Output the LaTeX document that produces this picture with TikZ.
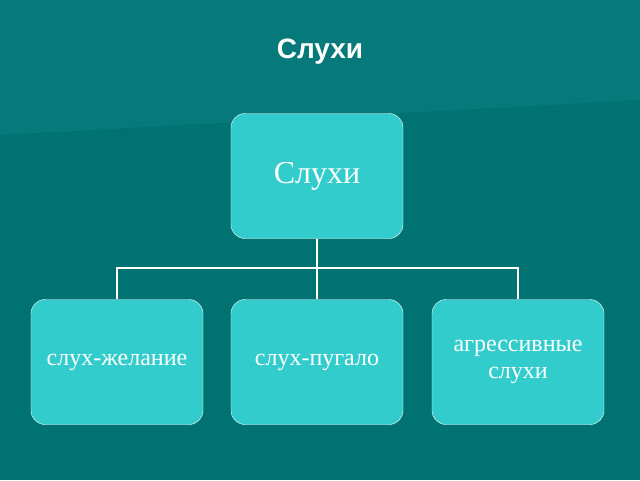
\documentclass[tikz,border=0pt]{standalone}
\usepackage{fontspec}
\setmainfont{Liberation Serif}
\newfontfamily\titlefont{Liberation Sans}
\usetikzlibrary{positioning}
\definecolor{bgteal}{HTML}{007272}
\definecolor{bandteal}{HTML}{067A7A}
\definecolor{boxteal}{HTML}{33CCCC}
\begin{document}
\begin{tikzpicture}[x=1pt,y=-1pt,every node/.style={shape=rectangle,draw=white,rounded corners=14pt,fill=boxteal,text=white,minimum width=172pt,minimum height=125pt,align=center,font=\fontsize{24}{27}\selectfont},]
	% background
	\fill[bgteal] (0,0) rectangle (640,480);
	\fill[bandteal] (0,0) -- (640,0) -- (640,100) -- (0,135) -- cycle;
	\useasboundingbox (0,0) rectangle (640,480);

	\node[draw=none,fill=none,minimum width=0pt,minimum height=0pt,font=\titlefont\bfseries\fontsize{28}{32}\selectfont] (title) at (320,52) {Слухи};

	% create the nodes
	\node (rumor) at (317,176) {\fontsize{32}{36}\selectfont Слухи};
	\node (wish) at (117,362) {слух-желание};
	\node (scare) at (317,362) {слух-пугало};
	\node (aggr) at (518,362) {агрессивные\\слухи};

	% connect the nodes
	\coordinate (hub) at (317,268);
	\draw[white,line width=2pt] (rumor) -- (hub);
	\draw[white,line width=2pt] (hub) -| (wish);
	\draw[white,line width=2pt] (hub) -- (scare);
	\draw[white,line width=2pt] (hub) -| (aggr);
\end{tikzpicture}
\end{document}
